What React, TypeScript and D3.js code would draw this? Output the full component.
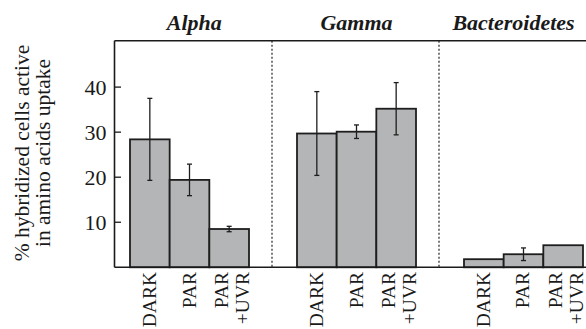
import React from "react";
import * as d3 from "d3";

const groups = ["Alpha", "Gamma", "Bacteroidetes"];
const conditions = ["DARK", "PAR", "PAR+UVR"];
const conditionLabels = [["DARK"], ["PAR"], ["PAR", "+UVR"]];
const alphaValues = [28.4, 19.4, 8.5];
const alphaErrors = [9.1, 3.5, 0.6];
const gammaValues = [29.7, 30.1, 35.2];
const gammaErrors = [9.3, 1.5, 5.8];
const bacteroidetesValues = [1.8, 2.9, 4.9];
const bacteroidetesErrors = [0, 1.4, 0];
const yTicks = [10, 20, 30, 40];
const yLabelLines = ["% hybridized cells active", "in amino acids uptake"];

const seriesValues = [alphaValues, gammaValues, bacteroidetesValues];
const seriesErrors = [alphaErrors, gammaErrors, bacteroidetesErrors];

const W = 586;
const H = 329;
const left = 114.5;
const right = 586;
const top = 40.7;
const bottom = 267.3;
const serif = "Liberation Serif, Times New Roman, Times, serif";

export default function App() {
  const y = d3.scaleLinear().domain([0, 50.3]).range([bottom, top]);
  const gx = d3
    .scaleBand<string>()
    .domain(groups)
    .range([130, 583])
    .paddingInner(0.2874)
    .paddingOuter(0);
  const bx = d3
    .scaleBand<string>()
    .domain(conditions)
    .range([0, gx.bandwidth()])
    .padding(0);

  const panelBounds = [left];
  groups.slice(1).forEach((g, i) => {
    const prevEnd = (gx(groups[i]) as number) + gx.bandwidth();
    const start = gx(g) as number;
    panelBounds.push((prevEnd + start) / 2 - 1);
  });
  panelBounds.push(right);

  return (
    <svg
      width={W}
      height={H}
      style={{ position: "fixed", left: 0, top: 0, background: "#fff", fontFamily: serif }}
    >
      {groups.map((g, i) => (
        <text
          key={g}
          x={(panelBounds[i] + panelBounds[i + 1]) / 2 + 1}
          y={29.5}
          textAnchor="middle"
          fontSize={22}
          fontWeight="bold"
          fontStyle="italic"
          fill="#1a1a1a"
          style={{ fontFamily: serif }}
        >
          {g}
        </text>
      ))}

      {panelBounds.slice(1, -1).map((xv, i) => (
        <line
          key={i}
          x1={xv}
          x2={xv}
          y1={top}
          y2={bottom}
          stroke="#333"
          strokeWidth={1.3}
          strokeDasharray="2,2"
        />
      ))}

      {groups.map((g, gi) =>
        conditions.map((c, ci) => {
          const x0 = (gx(g) as number) + (bx(c) as number);
          const v = seriesValues[gi][ci];
          const e = seriesErrors[gi][ci];
          const cx = x0 + bx.bandwidth() / 2;
          return (
            <g key={g + c}>
              <rect
                x={x0}
                y={y(v)}
                width={bx.bandwidth()}
                height={y(0) - y(v)}
                fill="#b4b5b7"
                stroke="#1e1e1e"
                strokeWidth={1.8}
              />
              {e > 0 && (
                <g stroke="#1e1e1e" strokeWidth={1.3}>
                  <line x1={cx} x2={cx} y1={y(v + e)} y2={y(v - e)} />
                  <line x1={cx - 2.5} x2={cx + 2.5} y1={y(v + e)} y2={y(v + e)} />
                  <line x1={cx - 2.5} x2={cx + 2.5} y1={y(v - e)} y2={y(v - e)} />
                </g>
              )}
            </g>
          );
        })
      )}

      <line x1={left} x2={left} y1={top} y2={bottom} stroke="#1a1a1a" strokeWidth={1.6} />
      <line x1={left} x2={right} y1={top} y2={top} stroke="#1a1a1a" strokeWidth={1.6} />
      <line x1={left} x2={right} y1={bottom} y2={bottom} stroke="#1a1a1a" strokeWidth={1.6} />

      {yTicks.map((t) => (
        <g key={t}>
          <line x1={left} x2={left + 6.5} y1={y(t)} y2={y(t)} stroke="#1a1a1a" strokeWidth={1.3} />
          <text
            x={left - 8}
            y={y(t)}
            dy="0.35em"
            textAnchor="end"
            fontSize={22}
            fill="#1a1a1a"
            style={{ fontFamily: serif }}
          >
            {t}
          </text>
        </g>
      ))}

      <text
        transform={`translate(29, ${(top + bottom) / 2 - 1}) rotate(-90)`}
        textAnchor="middle"
        fontSize={21.5}
        fill="#1a1a1a"
        style={{ fontFamily: serif }}
      >
        <tspan x={0} dy={0}>{yLabelLines[0]}</tspan>
        <tspan x={0} dy={21}>{yLabelLines[1]}</tspan>
      </text>

      {groups.map((g) =>
        conditions.map((c, ci) => {
          const cx = (gx(g) as number) + (bx(c) as number) + bx.bandwidth() / 2;
          const lines = conditionLabels[ci];
          const baseX = lines.length === 1 ? cx + 6 : cx - 1;
          return (
            <text
              key={g + c + "lab"}
              transform={`translate(${baseX}, 272) rotate(-90)`}
              textAnchor="end"
              fontSize={19.5}
              fill="#1a1a1a"
              style={{ fontFamily: serif }}
            >
              {lines.map((l, li) => (
                <tspan key={li} x={0} dy={li === 0 ? 0 : 21}>
                  {l}
                </tspan>
              ))}
            </text>
          );
        })
      )}
    </svg>
  );
}
